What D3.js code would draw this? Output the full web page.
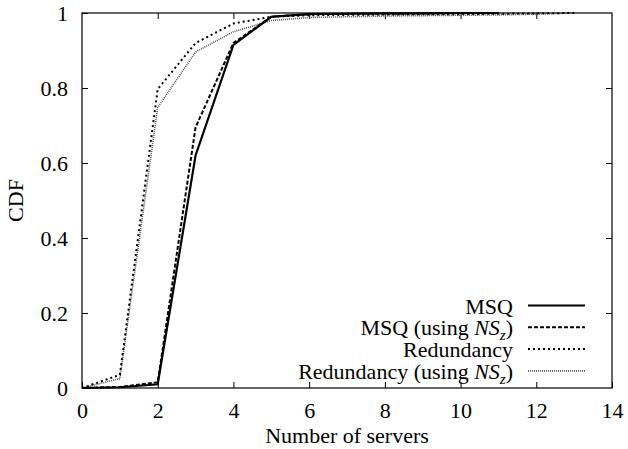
<!DOCTYPE html>
<html>
<head>
<meta charset="utf-8">
<script src="https://cdn.jsdelivr.net/npm/d3@7"></script>
<style>
  body { margin: 0; background: #fff; }
</style>
</head>
<body>
<div id="chart"></div>
<script>
// CDF values
const msqX = [0, 1, 2, 3, 4, 5, 6, 7, 8, 9, 10, 11];
const msqY = [0, 0.002, 0.01, 0.62, 0.915, 0.99, 0.997, 0.998, 0.999, 0.999, 1, 1];
const msqNsX = [0, 1, 2, 3, 4, 5, 6, 7, 8, 9, 10, 11];
const msqNsY = [0, 0.003, 0.015, 0.695, 0.92, 0.99, 0.997, 0.998, 0.999, 0.999, 1, 1];
const redX = [0, 1, 2, 3, 4, 5, 6, 7, 8, 9, 10, 11, 12, 13];
const redY = [0, 0.035, 0.797, 0.92, 0.972, 0.99, 0.994, 0.995, 0.996, 0.997, 0.997, 0.998, 0.999, 1];
const redNsX = [0, 1, 2, 3, 4, 5, 6, 7, 8, 9, 10, 11, 12, 13];
const redNsY = [0, 0.025, 0.748, 0.896, 0.95, 0.98, 0.988, 0.99, 0.992, 0.993, 0.994, 0.995, 0.997, 1];

const xTicks = [0, 2, 4, 6, 8, 10, 12, 14];
const yTicks = [0, 0.2, 0.4, 0.6, 0.8, 1];

const width = 628, height = 449;
const m = { left: 82, right: 16, top: 13, bottom: 61 };
const serif = "'Liberation Serif'";
const fs = "22px";

const svg = d3.select("#chart").append("svg")
  .attr("width", width)
  .attr("height", height)
  .style("font-family", serif);

const x = d3.scaleLinear().domain([0, 14]).range([m.left, width - m.right]);
const y = d3.scaleLinear().domain([0, 1]).range([height - m.bottom, m.top]);

// axes (ticks point inward, mirrored on top/right)
svg.append("g")
  .attr("transform", `translate(0,${y(0)})`)
  .call(d3.axisBottom(x).tickValues(xTicks).tickSize(-6).tickPadding(14).tickFormat(d3.format("d")))
  .call(g => g.select(".domain").remove());
svg.append("g")
  .attr("transform", `translate(0,${y(1)})`)
  .call(d3.axisTop(x).tickValues(xTicks.slice(1, -1)).tickSize(-6).tickFormat(""))
  .call(g => g.select(".domain").remove());
svg.append("g")
  .attr("transform", `translate(${x(0)},0)`)
  .call(d3.axisLeft(y).tickValues(yTicks).tickSize(-6).tickPadding(14).tickFormat(d => d === 0 || d === 1 ? d3.format("d")(d) : d3.format(".1f")(d)))
  .call(g => g.select(".domain").remove());
svg.append("g")
  .attr("transform", `translate(${x(14)},0)`)
  .call(d3.axisRight(y).tickValues(yTicks.slice(1, -1)).tickSize(-6).tickFormat(""))
  .call(g => g.select(".domain").remove());

svg.selectAll("g").attr("font-family", null).attr("font-size", null);
svg.selectAll(".tick text")
  .style("font-family", serif)
  .style("font-size", fs)
  .attr("fill", "#000");
svg.selectAll(".tick line").attr("stroke", "#000");

svg.append("rect")
  .attr("x", x(0)).attr("y", y(1))
  .attr("width", x(14) - x(0)).attr("height", y(0) - y(1))
  .attr("fill", "none").attr("stroke", "#000").attr("stroke-width", 1.2);

// series
const series = [
  { name: "MSQ", ns: false, xs: msqX, ys: msqY, stroke: "#000", w: 2.2, dash: null },
  { name: "MSQ (using ", ns: true, xs: msqNsX, ys: msqNsY, stroke: "#000", w: 2, dash: "4,2" },
  { name: "Redundancy", ns: false, xs: redX, ys: redY, stroke: "#000", w: 2, dash: "2,3" },
  { name: "Redundancy (using ", ns: true, xs: redNsX, ys: redNsY, stroke: "#555", w: 1.6, dash: "1,1" }
];

const line = d3.line().x(d => x(d[0])).y(d => y(d[1]));

series.slice().reverse().forEach(s => {
  svg.append("path")
    .datum(d3.zip(s.xs, s.ys))
    .attr("d", line)
    .attr("fill", "none")
    .attr("stroke", s.stroke)
    .attr("stroke-width", s.w)
    .attr("stroke-dasharray", s.dash);
});

// legend
const lg = svg.append("g");
series.forEach((s, i) => {
  const ly = 305.5 + i * 21.8;
  const t = lg.append("text")
    .attr("x", 513).attr("y", ly + 8)
    .attr("text-anchor", "end")
    .style("font-family", serif)
    .style("font-size", fs);
  t.append("tspan").text(s.name);
  if (s.ns) {
    t.append("tspan").attr("font-style", "italic").text("NS");
    t.append("tspan").attr("font-style", "italic").style("font-size", "15px").attr("dy", 5).text("z");
    t.append("tspan").attr("dy", -5).text(")");
  }
  lg.append("line")
    .attr("x1", 528).attr("x2", 585)
    .attr("y1", ly).attr("y2", ly)
    .attr("stroke", s.stroke)
    .attr("stroke-width", s.w)
    .attr("stroke-dasharray", s.dash);
});

// axis titles
svg.append("text")
  .attr("x", (x(0) + x(14)) / 2).attr("y", 443)
  .attr("text-anchor", "middle")
  .style("font-size", fs)
  .text("Number of servers");
svg.append("text")
  .attr("transform", `translate(23,${(y(0) + y(1)) / 2}) rotate(-90)`)
  .attr("text-anchor", "middle")
  .style("font-size", fs)
  .text("CDF");
</script>
</body>
</html>
